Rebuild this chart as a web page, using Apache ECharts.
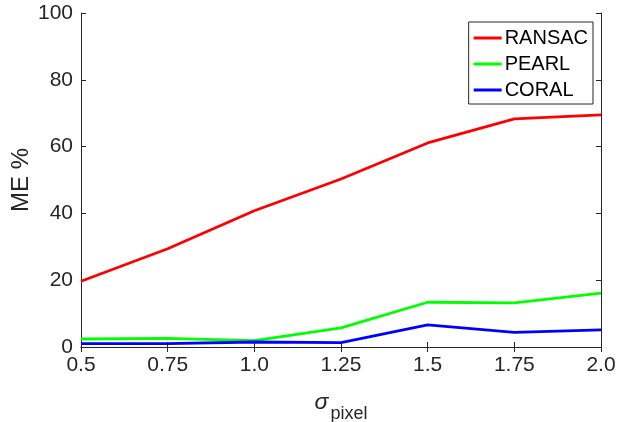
<!DOCTYPE html>
<html>
<head>
<meta charset="utf-8">
<script src="https://cdn.jsdelivr.net/npm/echarts@6/dist/echarts.min.js"></script>
<style>
  html, body { margin: 0; padding: 0; background: #fff; }
  #chart { width: 618px; height: 422px; }
</style>
</head>
<body>
<div id="chart"></div>
<script>
// values
var sigma = [0.5, 0.75, 1.0, 1.25, 1.5, 1.75, 2.0];
var tickLabels = ['0.5', '0.75', '1.0', '1.25', '1.5', '1.75', '2.0'];
var ransac = [19.7, 29.4, 40.8, 50.3, 61.1, 68.3, 69.5];
var pearl = [2.4, 2.6, 1.9, 5.7, 13.4, 13.2, 16.1];
var coral = [1.0, 1.0, 1.5, 1.3, 6.6, 4.4, 5.1];

var axisColor = '#262626';
var font = "'Liberation Sans', Arial, sans-serif";

function pairs (ys) {
  return sigma.map(function (x, i) { return [x, ys[i]] })
}

function xLabel (v) {
  var i = sigma.indexOf(Math.round(v * 100) / 100)
  return i >= 0 ? tickLabels[i] : ''
}

var chart = echarts.init(document.getElementById('chart'))
var option = {
  backgroundColor: '#fff',
  animation: false,
  textStyle: { fontFamily: font },
  grid: { left: 81, right: 17, top: 13, bottom: 75, outerBoundsMode: 'none', containLabel: false },
  legend: {
    orient: 'vertical',
    right: 25,
    top: 22,
    icon: 'rect',
    itemWidth: 28,
    itemHeight: 3,
    itemGap: 6,
    padding: [6, 5, 4, 5],
    borderColor: axisColor,
    borderWidth: 1,
    backgroundColor: '#fff',
    textStyle: { fontFamily: font, fontSize: 20, lineHeight: 19, color: '#000', padding: [0, 0, 0, -2] },
    data: ['RANSAC', 'PEARL', 'CORAL']
  },
  xAxis: [{
    type: 'value',
    min: 0.5,
    max: 2.0,
    interval: 0.25,
    position: 'bottom',
    splitLine: { show: false },
    axisLine: { lineStyle: { color: axisColor, width: 1 } },
    axisTick: { inside: true, length: 5, lineStyle: { color: axisColor } },
    axisLabel: { fontFamily: font, fontSize: 21, color: axisColor, margin: 8, formatter: xLabel },
    name: '{s|σ}{p|pixel}',
    nameLocation: 'middle',
    nameGap: 36,
    nameTextStyle: {
      rich: {
        s: { fontFamily: font, fontSize: 23, fontStyle: 'italic', color: axisColor },
        p: { fontFamily: font, fontSize: 18, color: axisColor, padding: [22, 0, 0, 2] }
      }
    }
  }, {
    type: 'value',
    min: 0.5,
    max: 2.0,
    interval: 0.25,
    position: 'top',
    splitLine: { show: false },
    axisLine: { lineStyle: { color: axisColor, width: 1 } },
    axisTick: { inside: true, length: 5, lineStyle: { color: axisColor } },
    axisLabel: { show: false }
  }],
  yAxis: [{
    type: 'value',
    min: 0,
    max: 100,
    interval: 20,
    position: 'left',
    splitLine: { show: false },
    axisLine: { show: true, lineStyle: { color: axisColor, width: 1 } },
    axisTick: { show: true, inside: true, length: 5, lineStyle: { color: axisColor } },
    axisLabel: { fontFamily: font, fontSize: 21, color: axisColor, margin: 8 },
    name: 'ME %',
    nameLocation: 'middle',
    nameGap: 48,
    nameMoveOverlap: false,
    nameTextStyle: { fontFamily: font, fontSize: 24, color: axisColor }
  }, {
    type: 'value',
    min: 0,
    max: 100,
    interval: 20,
    position: 'right',
    splitLine: { show: false },
    axisLine: { show: true, lineStyle: { color: axisColor, width: 1 } },
    axisTick: { show: true, inside: true, length: 5, lineStyle: { color: axisColor } },
    axisLabel: { show: false }
  }],
  series: [
    { name: 'RANSAC', type: 'line', data: pairs(ransac), symbol: 'none', color: '#ff0000', lineStyle: { width: 2.8 } },
    { name: 'PEARL', type: 'line', data: pairs(pearl), symbol: 'none', color: '#00ff00', lineStyle: { width: 2.8 } },
    { name: 'CORAL', type: 'line', data: pairs(coral), symbol: 'none', color: '#0000ff', lineStyle: { width: 2.8 } }
  ]
}
chart.setOption(option)
</script>
</body>
</html>
